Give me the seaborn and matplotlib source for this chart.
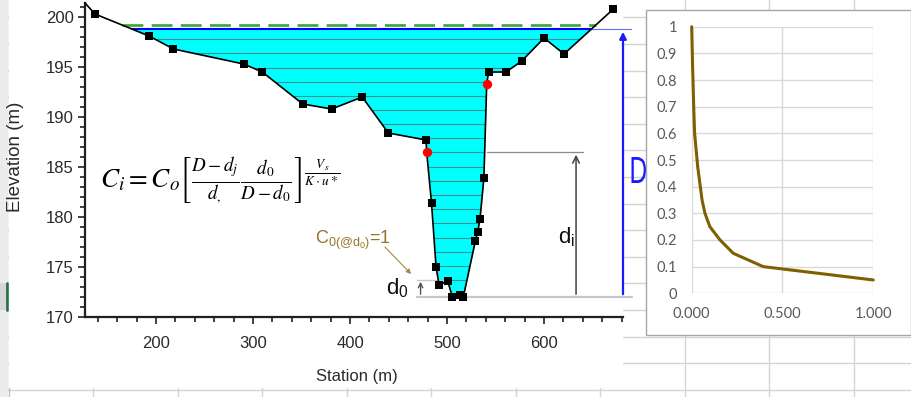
import numpy as np
import seaborn as sns
import matplotlib.pyplot as plt
from matplotlib.ticker import MultipleLocator, FixedLocator
from matplotlib.patches import Rectangle, PathPatch
from matplotlib.textpath import TextPath
from matplotlib.font_manager import FontProperties
from matplotlib.transforms import Affine2D

# cross section (HEC-RAS style), station (m) / elevation (m)
station = [126.8, 137.1, 192.8, 218.0, 290.4, 309.6, 351.2, 381.0, 412.6, 439.5,
           478.4, 479.0, 484.0, 488.7, 491.8, 500.7, 505.5, 513.4, 516.8, 529.2,
           531.6, 534.0, 538.0, 540.9, 542.8, 560.8, 577.0, 600.0, 620.6, 671.5]
elev = [201.4, 200.3, 198.1, 196.8, 195.3, 194.5, 191.3, 190.8, 192.0, 188.4,
        187.7, 186.5, 181.4, 175.0, 173.2, 173.6, 172.0, 172.2, 172.0, 177.6,
        178.5, 179.8, 183.9, 193.3, 194.5, 194.5, 195.6, 197.9, 196.3, 200.8]
bank_station = [479.0, 540.9]
bank_elev = [186.5, 193.3]
ws_elev = 198.8
eg_elev = 199.2
bed_elev = 172.0
d0_elev = 173.7
di_elev = 186.5
slice_levels = [173.7, 175.1, 176.5, 177.9, 179.4, 180.8, 182.2, 183.6, 185.0,
                186.5, 187.9, 189.3, 190.7, 192.1, 193.5, 194.9, 196.4, 197.8]

# concentration profile (right chart)
conc_x = [0.000, 0.005, 0.011, 0.016, 0.033, 0.057, 0.073, 0.100, 0.156, 0.229, 0.394, 1.000]
conc_y = [1.00, 0.85, 0.70, 0.60, 0.475, 0.35, 0.30, 0.25, 0.20, 0.15, 0.10, 0.05]

W, H = 912, 397


def box(x0, y0, x1, y1):
    return [x0 / W, 1 - y1 / H, (x1 - x0) / W, (y1 - y0) / H]


def crossing(level, first):
    # station where the ground line crosses a horizontal level
    st, el = np.array(station), np.array(elev)
    idx = range(len(st) - 1) if first else range(len(st) - 2, -1, -1)
    for i in idx:
        a, b = el[i], el[i + 1]
        if (a - level) * (b - level) <= 0 and a != b:
            return st[i] + (level - a) / (b - a) * (st[i + 1] - st[i])


sns.set_theme(style='white')
regular = ['Liberation Sans', 'DejaVu Sans']
plt.rcParams['font.family'] = regular

fig = plt.figure(figsize=(W / 100, H / 100), dpi=100)

# spreadsheet behind the charts
bg = fig.add_axes([0, 0, 1, 1], zorder=-1)
bg.set_xlim(0, W)
bg.set_ylim(H, 0)
bg.axis('off')
for y in np.arange(17.3, H, 26.6):
    bg.axhline(y, color='#d4d4d4', lw=1, zorder=1)
for x in np.arange(93, W, 84.55):
    bg.axvline(x, color='#d4d4d4', lw=1, zorder=1)
bg.add_patch(Rectangle((0, 0), 8.5, H, fc='#ececec', ec='none', zorder=2))
bg.add_patch(Rectangle((0, 283.3), 8.5, 26.6, fc='#d6d6d6', ec='none', zorder=2.5))
bg.plot([7.5, 7.5], [283.3, 309.9], color='#217346', lw=2, zorder=3)
bg.axvline(8.8, color='#bdbdbd', lw=1, zorder=3)
bg.add_patch(Rectangle((9.3, 0), 613.7, 388, fc='white', ec='none', zorder=4))

# the blue "D" label (narrow glyph)
tp = TextPath((0, 0), 'D', size=1, prop=FontProperties(family='Liberation Sans'))
ext = tp.get_extents()
d_tr = (Affine2D().translate(-ext.x0, -ext.y0)
        .scale(14.5 / ext.width, -26 / ext.height).translate(631.5, 183))
bg.add_patch(PathPatch(d_tr.transform_path(tp), fc='#1a1aff', ec='none', zorder=5))

# cross section chart
ax = fig.add_axes(box(85, 3, 623, 317), zorder=0)
ax.patch.set_visible(False)
ax.set_xlim(126.8, 681.4)
ax.set_ylim(170, 201.4)

water = ax.fill_between(station, elev, ws_elev, where=np.array(elev) <= ws_elev,
                        interpolate=True, color='#00ffff', lw=0, zorder=1)
lines = ax.hlines(slice_levels, station[0], station[-1], color='#3f8f8f', lw=0.8, zorder=2)
lines.set_clip_path(water.get_paths()[0], ax.transData)

ws_left, ws_right = crossing(ws_elev, True), crossing(ws_elev, False)
eg_left, eg_right = crossing(eg_elev, True), crossing(eg_elev, False)
ax.plot([ws_left, ws_right], [ws_elev, ws_elev], color='#0000ff', lw=1.5, zorder=3)
ax.plot([eg_left, eg_right], [eg_elev, eg_elev], color='#3daa3d', lw=2,
        dashes=(7.5, 3), zorder=3)

marked = [i for i in range(1, len(station)) if station[i] not in bank_station]
sns.lineplot(x=station, y=elev, sort=False, color='black', lw=1.2, marker='s',
             markersize=6, markeredgewidth=0, markevery=marked,
             ax=ax, zorder=4, clip_on=False)
sns.scatterplot(x=bank_station, y=bank_elev, color='#ff0000', s=45, marker='o',
                linewidth=0, ax=ax, zorder=5)

ax.xaxis.set_major_locator(MultipleLocator(100))
ax.xaxis.set_minor_locator(MultipleLocator(20))
ax.yaxis.set_major_locator(MultipleLocator(5))
ax.yaxis.set_minor_locator(MultipleLocator(1))
for side in ['top', 'right']:
    ax.spines[side].set_visible(False)
for side in ['left', 'bottom']:
    ax.spines[side].set_color('#202020')
    ax.spines[side].set_linewidth(1.6)
ax.tick_params(which='both', direction='out', color='#202020', width=1.2,
               labelcolor='#2a2a2a', labelsize=12, bottom=True, left=True)
ax.tick_params(which='major', length=5)
ax.tick_params(which='minor', length=3.5)
ax.tick_params(axis='x', which='major', pad=9)
ax.tick_params(axis='y', which='major', pad=3)
ax.set_xlabel('')
ax.set_ylabel('')

fig.text(357 / W, 1 - 377 / H, 'Station (m)', ha='center', va='center',
         fontsize=12, color='#2a2a2a')
fig.text(16 / W, 1 - 157 / H, 'Elevation (m)', ha='center', va='center',
         rotation=90, fontsize=13.5, color='#2a2a2a')

# annotations
ax.plot([bank_station[1], 640], [di_elev, di_elev], color='#8c8c8c', lw=0.9, zorder=3)
ax.plot([469, 691], [bed_elev, bed_elev], color='#c8c8c8', lw=1.6, zorder=3, clip_on=False)
ax.plot([469, 501], [d0_elev, d0_elev], color='#c8c8c8', lw=1.0, zorder=3)
ax.annotate('', xy=(633, di_elev), xytext=(633, bed_elev),
            arrowprops=dict(arrowstyle='->', color='#404040', lw=1.1, mutation_scale=12))
ax.annotate('', xy=(472.7, d0_elev + 0.1), xytext=(472.7, bed_elev),
            arrowprops=dict(arrowstyle='->', color='#505050', lw=1.0, mutation_scale=8))
ax.text(614, 177.4, r'd$_\mathregular{i}$', fontsize=16,
        ha='left', va='baseline', color='#111111')
ax.text(437, 172.3, r'd$_\mathregular{0}$', fontsize=16,
        ha='left', va='baseline', color='#111111')

gold = '#93762a'
ax.text(364, 177.3, r'C$_{\mathregular{0(@d}_{\mathregular{0}}\mathregular{)}}$=1',
        fontsize=13, color=gold, ha='left', va='baseline')
ax.annotate('', xy=(465, 174.1), xytext=(434, 177.2),
            arrowprops=dict(arrowstyle='-|>', color='#a08a50', lw=0.8, mutation_scale=7))

ax.plot([ws_right, 690], [ws_elev, ws_elev], color='#6a6aff', lw=0.8, clip_on=False, zorder=3)
ax.annotate('', xy=(681.4, ws_elev), xytext=(681.4, bed_elev),
            arrowprops=dict(arrowstyle='-|>', color='#1a1aff', lw=1.6, mutation_scale=10),
            annotation_clip=False)

ax.text(266, 183.6,
        r'$C_i = C_o\left[\frac{D-d_j}{d_{,}}\frac{d_0}{D-d_0}\right]^{\frac{V_s}{K\cdot u*}}$',
        fontsize=19.5, math_fontfamily='stix', ha='center', va='center', color='black')

# white chart box on the sheet
ov = fig.add_axes([0, 0, 1, 1], zorder=1)
ov.set_xlim(0, W)
ov.set_ylim(H, 0)
ov.axis('off')
ov.add_patch(Rectangle((646.5, 9.5), 265, 325.5, fc='white', ec='#a6a6a6', lw=1))

# concentration chart
cx = fig.add_axes(box(691.7, 26.7, 873.3, 293.3), zorder=2)
sns.lineplot(x=conc_x, y=conc_y, sort=False, color='#7f6000', lw=2.2, ax=cx, clip_on=False)
cx.set_xlim(0, 1)
cx.set_ylim(0, 1)
cx.xaxis.set_major_locator(FixedLocator([0, 0.5, 1]))
cx.set_xticklabels(['0.000', '0.500', '1.000'])
cx.yaxis.set_major_locator(FixedLocator(np.round(np.arange(0, 1.01, 0.1), 1)))
cx.set_yticklabels(['0', '0.1', '0.2', '0.3', '0.4', '0.5', '0.6', '0.7', '0.8', '0.9', '1'])
cx.grid(True, color='#d9d9d9', lw=1)
cx.set_axisbelow(True)
for s in cx.spines.values():
    s.set_visible(False)
cx.tick_params(length=0, labelcolor='#595959', labelsize=10.5)
cx.tick_params(axis='y', pad=10.5)
cx.tick_params(axis='x', pad=10)
for lab in cx.get_xticklabels() + cx.get_yticklabels():
    lab.set_family(['Lato', 'DejaVu Sans'])
cx.set_xlabel('')
cx.set_ylabel('')

fig.savefig('out.png', dpi=100)
